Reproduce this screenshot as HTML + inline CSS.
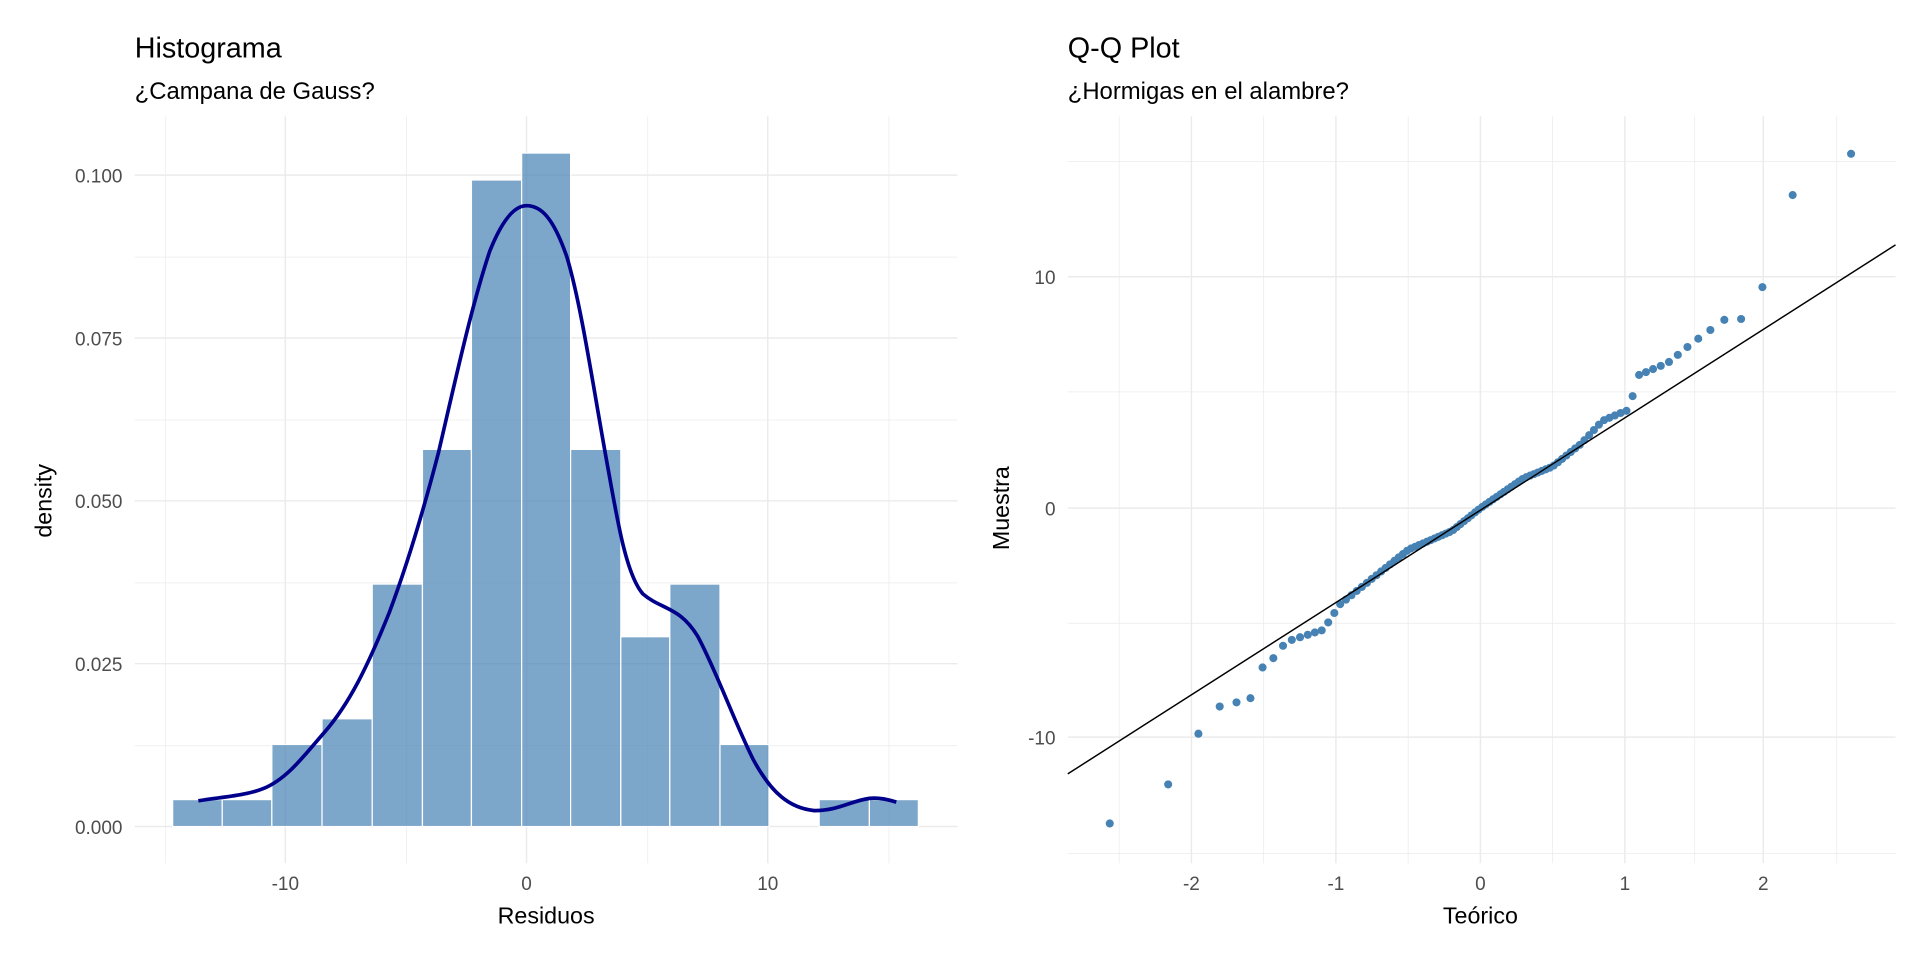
<!DOCTYPE html>
<html><head><meta charset="utf-8"><style>
html,body{margin:0;padding:0;background:#fff;}
svg{display:block;}
text{font-family:"Liberation Sans",Arial,sans-serif;}
</style></head><body>
<svg id="s" width="1920" height="960" viewBox="0 0 1568 784" xmlns="http://www.w3.org/2000/svg">
<rect width="1568" height="784" fill="#fff"/>
<g stroke="#ebebeb" stroke-width="0.6">
<line x1="110" x2="782" y1="609" y2="609"/><line x1="110" x2="782" y1="476" y2="476"/>
<line x1="110" x2="782" y1="343" y2="343"/><line x1="110" x2="782" y1="210" y2="210"/>
<line x1="135" x2="135" y1="95" y2="705"/><line x1="332" x2="332" y1="95" y2="705"/>
<line x1="529" x2="529" y1="95" y2="705"/><line x1="726" x2="726" y1="95" y2="705"/>
</g>
<g stroke="#ebebeb" stroke-width="1.2">
<line x1="110" x2="782" y1="675" y2="675"/><line x1="110" x2="782" y1="542" y2="542"/>
<line x1="110" x2="782" y1="409" y2="409"/><line x1="110" x2="782" y1="276" y2="276"/>
<line x1="110" x2="782" y1="143" y2="143"/>
<line x1="233" x2="233" y1="95" y2="705"/><line x1="430" x2="430" y1="95" y2="705"/>
<line x1="627" x2="627" y1="95" y2="705"/>
</g>
<g fill="#4682b4" fill-opacity="0.7" stroke="#fff" stroke-width="1">
<rect x="141" y="653" width="40.5" height="22"/>
<rect x="181.5" y="653" width="40.5" height="22"/>
<rect x="222" y="608" width="41" height="67"/>
<rect x="263" y="587" width="41" height="88"/>
<rect x="304" y="477" width="41" height="198"/>
<rect x="345" y="367" width="40" height="308"/>
<rect x="385" y="147" width="41" height="528"/>
<rect x="426" y="125" width="40" height="550"/>
<rect x="466" y="367" width="41" height="308"/>
<rect x="507" y="520" width="40" height="155"/>
<rect x="547" y="477" width="41" height="198"/>
<rect x="588" y="608" width="40" height="67"/>
<rect x="669" y="653" width="41" height="22"/>
<rect x="710" y="653" width="40" height="22"/>
</g>
<path d="M162,654 C180,651 200,650 215,644 C235,636 250,615 265,598 C285,575 300,545 318,500 C333,460 345,420 358,370 C372,310 385,250 400,205 C410,180 420,168 430,168 C442,168 452,178 463,210 C475,250 485,320 497,385 C505,430 512,470 525,485 C540,498 555,495 570,520 C585,548 600,590 615,620 C630,648 645,660 665,662 C685,662 695,654 710,652 C720,651 728,654 732,655" fill="none" stroke="#00008b" stroke-width="3"/>
<g fill="#4d4d4d" font-size="15.5" text-anchor="end">
<text x="100" y="681">0.000</text><text x="100" y="548">0.025</text>
<text x="100" y="415">0.050</text><text x="100" y="282">0.075</text><text x="100" y="149">0.100</text>
</g>
<g fill="#4d4d4d" font-size="15.5" text-anchor="middle">
<text x="233" y="727">-10</text><text x="430" y="727">0</text><text x="627" y="727">10</text>
</g>
<text x="446" y="754" font-size="19" text-anchor="middle">Residuos</text>
<text transform="translate(42,409) rotate(-90)" font-size="19" text-anchor="middle">density</text>
<text x="110" y="47" font-size="23.5">Histograma</text>
<text x="110" y="81" font-size="19.5">¿Campana de Gauss?</text>

<g stroke="#ebebeb" stroke-width="0.6">
<line x1="872" x2="1548" y1="132" y2="132"/><line x1="872" x2="1548" y1="320" y2="320"/>
<line x1="872" x2="1548" y1="509" y2="509"/><line x1="872" x2="1548" y1="697" y2="697"/>
<line x1="914" x2="914" y1="95" y2="705"/><line x1="1032" x2="1032" y1="95" y2="705"/>
<line x1="1150" x2="1150" y1="95" y2="705"/><line x1="1268" x2="1268" y1="95" y2="705"/>
<line x1="1384" x2="1384" y1="95" y2="705"/><line x1="1500" x2="1500" y1="95" y2="705"/>
</g>
<g stroke="#ebebeb" stroke-width="1.2">
<line x1="872" x2="1548" y1="226" y2="226"/><line x1="872" x2="1548" y1="415" y2="415"/>
<line x1="872" x2="1548" y1="602" y2="602"/>
<line x1="973" x2="973" y1="95" y2="705"/><line x1="1091" x2="1091" y1="95" y2="705"/>
<line x1="1209" x2="1209" y1="95" y2="705"/><line x1="1327" x2="1327" y1="95" y2="705"/>
<line x1="1440" x2="1440" y1="95" y2="705"/>
</g>
<g id="pts" fill="#4682b4"></g>
<line x1="872" y1="632" x2="1548" y2="200" stroke="#000" stroke-width="1.2"/>
<g fill="#4d4d4d" font-size="15.5" text-anchor="end">
<text x="862" y="232">10</text><text x="862" y="421">0</text><text x="862" y="608">-10</text>
</g>
<g fill="#4d4d4d" font-size="15.5" text-anchor="middle">
<text x="973" y="727">-2</text><text x="1091" y="727">-1</text><text x="1209" y="727">0</text>
<text x="1327" y="727">1</text><text x="1440" y="727">2</text>
</g>
<text x="1209" y="754" font-size="19" text-anchor="middle">Teórico</text>
<text transform="translate(824,415) rotate(-90)" font-size="19" text-anchor="middle">Muestra</text>
<text x="872" y="47" font-size="23.5">Q-Q Plot</text>
<text x="872" y="81" font-size="19.5">¿Hormigas en el alambre?</text>
</svg>
<script>
function qnorm(p){var a=[-39.69683028665376,220.9460984245205,-275.9285104469687,138.357751867269,-30.66479806614716,2.506628277459239],b=[-54.47609879822406,161.5858368580409,-155.6989798598866,66.80131188771972,-13.28068155288572],c=[-0.007784894002430293,-0.3223964580411365,-2.400758277161838,-2.549732539343734,4.374664141464968,2.938163982698783],d=[0.007784695709041462,0.3224671290700398,2.445134137142996,3.754408661907416],q,r;
if(p<0.02425){q=Math.sqrt(-2*Math.log(p));return(((((c[0]*q+c[1])*q+c[2])*q+c[3])*q+c[4])*q+c[5])/((((d[0]*q+d[1])*q+d[2])*q+d[3])*q+1);}
if(p>1-0.02425){q=Math.sqrt(-2*Math.log(1-p));return-(((((c[0]*q+c[1])*q+c[2])*q+c[3])*q+c[4])*q+c[5])/((((d[0]*q+d[1])*q+d[2])*q+d[3])*q+1);}
q=p-0.5;r=q*q;return(((((a[0]*r+a[1])*r+a[2])*r+a[3])*r+a[4])*r+a[5])*q/(((((b[0]*r+b[1])*r+b[2])*r+b[3])*r+b[4])*r+1);}
var A=[[-2.6,-13.8],[-2.17,-12],[-1.96,-9.8],[-1.81,-8.6],[-1.6,-8.3],[-1.55,-7.1],[-1.45,-6.6],[-1.35,-5.8],[-1.1,-5.3],[-1.05,-4.9],[-0.98,-4.2],[-0.9,-3.8],[-0.7,-2.8],[-0.5,-1.8],[-0.2,-1.0],[0,0],[0.3,1.3],[0.5,1.8],[0.7,2.8],[0.85,3.8],[1.0,4.2],[1.05,4.3],[1.07,5.7],[1.3,6.3],[1.5,7.3],[1.70,8.2],[1.81,8.2],[1.96,9.6],[2.17,13.6],[2.6,15.5]];
function f(q){if(q<=A[0][0])return A[0][1];for(var i=1;i<A.length;i++){if(q<=A[i][0]){var t=(q-A[i-1][0])/(A[i][0]-A[i-1][0]);return A[i-1][1]+t*(A[i][1]-A[i-1][1]);}}return A[A.length-1][1];}
var g=document.getElementById('pts'),n=100,h='';
for(var i=1;i<=n;i++){var q=qnorm((i-0.5)/n);var v=f(q);var x=1209+q*117.5,y=415-v*18.8;h+='<circle cx="'+x.toFixed(1)+'" cy="'+y.toFixed(1)+'" r="3.3"/>';}
g.innerHTML=h;
</script>
</body></html>
